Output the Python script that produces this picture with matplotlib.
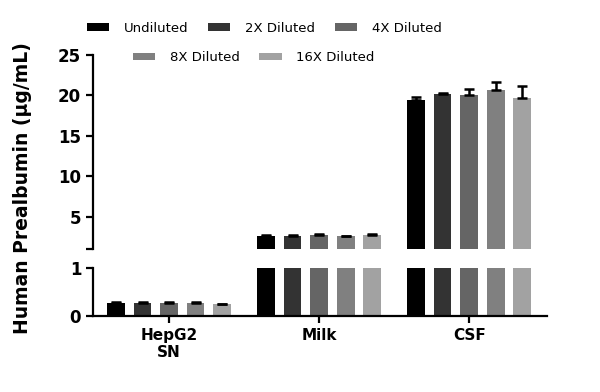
import numpy as np
import matplotlib.pyplot as plt
from matplotlib.patches import Patch

# datos
grupos = ['HepG2\nSN', 'Milk', 'CSF']
series = ['Undiluted', '2X Diluted', '4X Diluted', '8X Diluted', '16X Diluted']
colores = ['#000000', '#333333', '#656565', '#808080', '#a2a2a2']

valores = np.array([[0.27, 2.60, 19.45],
                    [0.28, 2.62, 20.10],
                    [0.27, 2.68, 20.05],
                    [0.27, 2.62, 20.60],
                    [0.24, 2.68, 19.70]])
errores = np.array([[0.02, 0.15, 0.30],
                    [0.02, 0.12, 0.15],
                    [0.02, 0.12, 0.75],
                    [0.02, 0.02, 1.10],
                    [0.02, 0.12, 1.50]])

plt.rcParams['font.family'] = ['DejaVu Sans']

fig = plt.figure(figsize=(6, 3.92), dpi=100)
ax_top = fig.add_axes([0.155, 0.365, 0.757, 0.495])
ax_bot = fig.add_axes([0.155, 0.194, 0.757, 0.122])

x = np.arange(len(grupos))
paso = 0.177
ancho = 0.118

for ax in (ax_top, ax_bot):
    for i in range(len(series)):
        pos = x + (i - 2) * paso
        ax.bar(pos, valores[i], ancho, color=colores[i], label=series[i], zorder=2)
        ax.errorbar(pos, valores[i], yerr=[np.zeros(3), errores[i]], fmt='none',
                    ecolor='black', elinewidth=1.8, capsize=3.5, capthick=1.8, zorder=3)
    ax.set_xlim(-0.507, 2.52)
    for s in ['top', 'right']:
        ax.spines[s].set_visible(False)
    ax.spines['left'].set_linewidth(1.6)
    ax.spines['bottom'].set_linewidth(1.6)
    ax.tick_params(axis='y', width=1.6, length=5, labelsize=12)

ax_top.set_ylim(1, 25)
ax_top.spines['bottom'].set_visible(False)
ax_top.set_yticks([1, 5, 10, 15, 20, 25])
ax_top.set_yticklabels(['', '5', '10', '15', '20', '25'], fontweight='bold')
ax_top.set_xticks([])

ax_bot.set_ylim(0, 1)
ax_bot.set_yticks([0, 1])
ax_bot.set_yticklabels(['0', '1'], fontweight='bold')
ax_bot.set_xticks(x)
ax_bot.set_xticklabels(grupos, fontweight='bold', fontsize=11)
ax_bot.tick_params(axis='x', width=1.6, length=5)

fig.text(0.037, 0.52, 'Human Prealbumin (\u03bcg/mL)', rotation=90, ha='center', va='center',
         fontsize=13.5, fontweight='bold')

# leyenda en dos filas centradas
handles = [Patch(facecolor=c) for c in colores]
opts = dict(frameon=False, fontsize=9.5, handlelength=1.7, handleheight=0.5,
            handletextpad=1.1, columnspacing=1.5)
fig.legend(handles[:3], series[:3], loc='center', bbox_to_anchor=(0.44, 0.928),
           ncol=3, **opts)
fig.legend(handles[3:], series[3:], loc='center', bbox_to_anchor=(0.423, 0.853),
           ncol=2, **opts)

fig.savefig('out.png', dpi=100)
